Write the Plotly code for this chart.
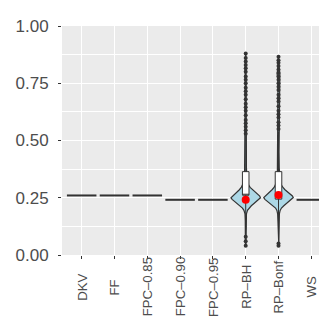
import plotly.graph_objects as go

# ---------------- data ----------------
categories = ["DKV", "FF", "FPC–0.85", "FPC–0.90", "FPC–0.95", "RP–BH", "RP–Bonf", "WS"]

# categories whose values are constant (degenerate violins -> flat lines)
constant_cats = ["DKV", "FF", "FPC–0.85", "FPC–0.90", "FPC–0.95", "WS"]
constant_vals = [0.26, 0.26, 0.26, 0.241, 0.241, 0.241]

# violin density profiles (relative width, 1 = widest)
bh_levels = [0.040, 0.10, 0.15, 0.18, 0.195, 0.205, 0.215, 0.225, 0.235, 0.243, 0.250,
             0.257, 0.265, 0.275, 0.285, 0.295, 0.305, 0.32, 0.34, 0.38, 0.45, 0.55,
             0.65, 0.75, 0.80, 0.85, 0.88]
bh_density = [0.02, 0.03, 0.03, 0.05, 0.12, 0.22, 0.38, 0.56, 0.76, 0.92, 1.00,
              0.95, 0.80, 0.60, 0.43, 0.30, 0.20, 0.13, 0.08, 0.05, 0.035, 0.03,
              0.035, 0.03, 0.04, 0.03, 0.01]

bonf_levels = [0.040, 0.10, 0.15, 0.18, 0.195, 0.205, 0.215, 0.225, 0.235, 0.243, 0.251,
               0.258, 0.266, 0.276, 0.286, 0.296, 0.306, 0.32, 0.34, 0.38, 0.45, 0.55,
               0.65, 0.75, 0.79, 0.83, 0.86]
bonf_density = [0.02, 0.03, 0.04, 0.06, 0.11, 0.20, 0.36, 0.55, 0.75, 0.92, 1.00,
                0.94, 0.78, 0.58, 0.42, 0.29, 0.19, 0.12, 0.08, 0.05, 0.035, 0.045,
                0.035, 0.035, 0.09, 0.035, 0.01]

# box plot statistics
box_cats = ["RP–BH", "RP–Bonf"]
box_q1 = [0.261, 0.244]
box_median = [0.265, 0.262]
box_q3 = [0.364, 0.364]
box_lower = [0.11, 0.07]
box_upper = [0.52, 0.54]

# outliers
bh_outliers = [0.04, 0.06, 0.08, 0.53, 0.545, 0.56, 0.575, 0.59, 0.61, 0.63, 0.645, 0.66,
               0.68, 0.70, 0.715, 0.73, 0.75, 0.765, 0.78, 0.80, 0.815, 0.83, 0.845,
               0.86, 0.88]
bonf_outliers = [0.04, 0.05, 0.55, 0.565, 0.58, 0.60, 0.615, 0.63, 0.65, 0.67, 0.685,
                 0.70, 0.72, 0.735, 0.75, 0.765, 0.78, 0.795, 0.81, 0.825, 0.84, 0.85, 0.866]

# mean points (red)
mean_vals = [0.241, 0.262]

# ---------------- styling ----------------
VIOLIN_HALF = 0.45
INK = "#333333"
pos = {c: i for i, c in enumerate(categories)}
XR = [-0.6, len(categories) - 0.4]
YR = [0, 1]

fig = go.Figure()

# flat lines for constant categories
lx, ly = [], []
for c, v in zip(constant_cats, constant_vals):
    lx += [pos[c] - VIOLIN_HALF, pos[c] + VIOLIN_HALF, None]
    ly += [v, v, None]
fig.add_trace(go.Scatter(x=lx, y=ly, mode="lines",
                         line=dict(color=INK, width=2), hoverinfo="skip"))

# violins
for cat, levels, dens in [("RP–BH", bh_levels, bh_density),
                          ("RP–Bonf", bonf_levels, bonf_density)]:
    p = pos[cat]
    xs = [p + VIOLIN_HALF * d for d in dens] + [p - VIOLIN_HALF * d for d in reversed(dens)]
    ys = list(levels) + list(reversed(levels))
    xs.append(xs[0]); ys.append(ys[0])
    fig.add_trace(go.Scatter(x=xs, y=ys, mode="lines", fill="toself",
                             fillcolor="#ADD8E6", line=dict(color=INK, width=1.2),
                             hoverinfo="skip"))

# boxes (on an overlaid subplot so they sit above the violins)
fig.add_trace(go.Box(x=[pos[c] for c in box_cats], q1=box_q1, median=box_median,
                     q3=box_q3, lowerfence=box_lower, upperfence=box_upper,
                     orientation="v", xaxis="x2", yaxis="y2",
                     width=0.2, whiskerwidth=0, fillcolor="white",
                     line=dict(color=INK, width=1), boxpoints=False, hoverinfo="skip"))

# outliers
ox = [pos["RP–BH"]] * len(bh_outliers) + [pos["RP–Bonf"]] * len(bonf_outliers)
oy = bh_outliers + bonf_outliers
fig.add_trace(go.Scatter(x=ox, y=oy, mode="markers", xaxis="x2", yaxis="y2",
                         marker=dict(color=INK, size=4), hoverinfo="skip"))

# means
fig.add_trace(go.Scatter(x=[pos[c] for c in box_cats], y=mean_vals, mode="markers",
                         xaxis="x2", yaxis="y2",
                         marker=dict(color="red", size=8), hoverinfo="skip"))

font = dict(family="Liberation Sans, Arial, sans-serif", color="#4D4D4D")

# category labels: rotated and centred (as ggplot's angle=90, hjust=0.5)
for c in categories:
    fig.add_annotation(x=pos[c], xref="x", y=-0.14, yref="paper", text=c,
                       textangle=-90, showarrow=False, xanchor="center",
                       yanchor="middle", font=dict(size=13.2, **font))

fig.update_layout(
    width=327, height=327,
    margin=dict(l=54, r=4, t=18, b=80),
    paper_bgcolor="white", plot_bgcolor="#EBEBEB",
    showlegend=False, boxmode="overlay",
    xaxis=dict(range=XR, tickmode="array",
               tickvals=list(range(len(categories))), showticklabels=False,
               showgrid=True, gridcolor="white", gridwidth=1, zeroline=False,
               ticks="outside", ticklen=3, tickcolor=INK, tickwidth=1,
               showline=False, fixedrange=True),
    yaxis=dict(range=YR, tickmode="array", tickvals=[0, 0.25, 0.5, 0.75, 1.0],
               ticktext=["0.00", "0.25", "0.50", "0.75", "1.00"],
               tickfont=dict(size=17, **font), ticklabelstandoff=6,
               showgrid=True, gridcolor="white", gridwidth=1, zeroline=False,
               ticks="outside", ticklen=3, tickcolor=INK, tickwidth=1,
               minor=dict(tickvals=[0.125, 0.375, 0.625, 0.875], showgrid=True,
                          gridcolor="white", gridwidth=0.5, ticks=""),
               showline=False, fixedrange=True),
    xaxis2=dict(overlaying="x", range=XR, visible=False, fixedrange=True),
    yaxis2=dict(overlaying="y", range=YR, visible=False, fixedrange=True),
)

fig.write_html("out.html")
